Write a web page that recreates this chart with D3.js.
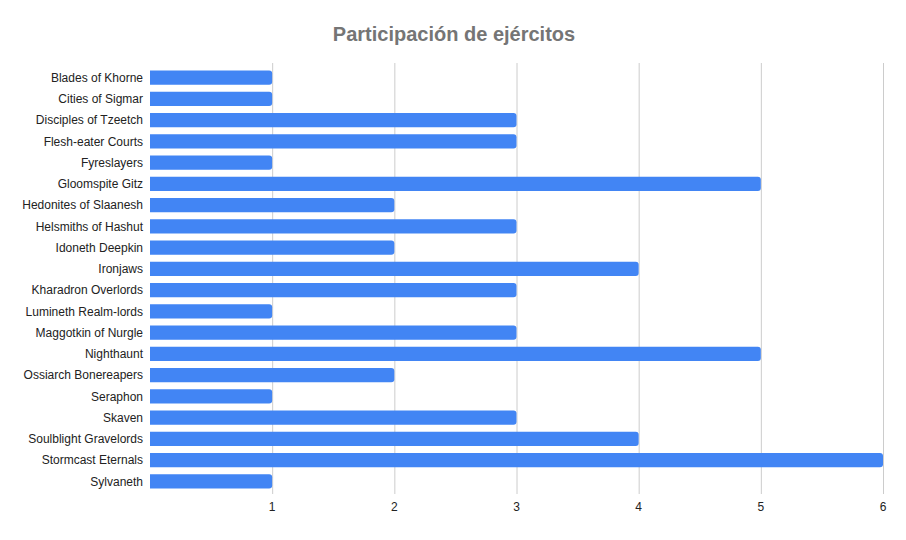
<!DOCTYPE html>
<html>
<head>
<meta charset="utf-8">
<script src="https://cdn.jsdelivr.net/npm/d3@7"></script>
<style>
  body { margin: 0; background: #fff; }
  text { font-family: Arial, "Liberation Sans", sans-serif; }
</style>
</head>
<body>
<div id="chart"></div>
<script>
// armies and how many times each one took part
var armies = [
    "Blades of Khorne", "Cities of Sigmar", "Disciples of Tzeetch",
    "Flesh-eater Courts", "Fyreslayers", "Gloomspite Gitz",
    "Hedonites of Slaanesh", "Helsmiths of Hashut", "Idoneth Deepkin",
    "Ironjaws", "Kharadron Overlords", "Lumineth Realm-lords",
    "Maggotkin of Nurgle", "Nighthaunt", "Ossiarch Bonereapers",
    "Seraphon", "Skaven", "Soulblight Gravelords", "Stormcast Eternals",
    "Sylvaneth"
];
var counts = [1, 1, 3, 3, 1, 5, 2, 3, 2, 4, 3, 1, 3, 5, 2, 1, 3, 4, 6, 1];
var ticks = [1, 2, 3, 4, 5, 6];

var width = 906, height = 540;
var margin = { left: 150, right: 23, top: 67, bottom: 48 };

var svg = d3.select("#chart").append("svg")
    .attr("width", width)
    .attr("height", height);

svg.append("text")
    .attr("x", width / 2 + 1)
    .attr("y", 41)
    .attr("text-anchor", "middle")
    .style("font-size", "20px")
    .style("font-weight", "bold")
    .style("fill", "#757575")
    .text("Participación de ejércitos");

var x = d3.scaleLinear()
    .domain([0, 6])
    .range([margin.left, width - margin.right]);

var y = d3.scaleBand()
    .domain(armies)
    .range([margin.top, height - margin.bottom])
    .paddingInner(0.34)
    .paddingOuter(0.17);

// grid lines
svg.append("g").selectAll("line")
    .data(ticks)
    .enter()
    .append("line")
    .attr("x1", function(d){ return x(d) + 0.5; })
    .attr("x2", function(d){ return x(d) + 0.5; })
    .attr("y1", margin.top - 4)
    .attr("y2", height - margin.bottom + 2)
    .attr("stroke", "#cccccc")
    .attr("stroke-width", 1);

// bars, rounded right end only
var bh = y.bandwidth(), r = 3;
svg.append("g").selectAll("path")
    .data(armies)
    .enter()
    .append("path")
    .attr("fill", "#4285f4")
    .attr("d", function(d, i){
        var x0 = x(0), x1 = x(counts[i]), y0 = y(d), y1 = y0 + bh;
        return "M" + x0 + "," + y0
            + "H" + (x1 - r)
            + "Q" + x1 + "," + y0 + " " + x1 + "," + (y0 + r)
            + "V" + (y1 - r)
            + "Q" + x1 + "," + y1 + " " + (x1 - r) + "," + y1
            + "H" + x0 + "Z";
    });

// category labels
svg.append("g").selectAll("text")
    .data(armies)
    .enter()
    .append("text")
    .attr("x", margin.left - 7)
    .attr("y", function(d){ return y(d) + bh / 2; })
    .attr("dy", "0.35em")
    .attr("text-anchor", "end")
    .style("font-size", "12px")
    .style("fill", "#222")
    .text(function(d){ return d; });

// value axis labels
svg.append("g").selectAll("text")
    .data(ticks)
    .enter()
    .append("text")
    .attr("x", function(d){ return x(d); })
    .attr("y", 511)
    .attr("text-anchor", "middle")
    .style("font-size", "12px")
    .style("fill", "#222")
    .text(function(d){ return d; });
</script>
</body>
</html>
